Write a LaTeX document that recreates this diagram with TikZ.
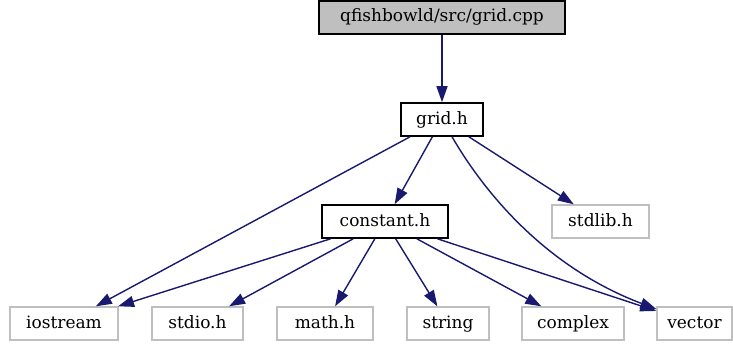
\documentclass[tikz,border=0pt]{standalone}
\usepackage{fontspec}
\setmainfont{DejaVu Serif}
\usetikzlibrary{arrows.meta}
\definecolor{edgeblue}{HTML}{191970}
\definecolor{extgray}{HTML}{BFBFBF}
\definecolor{rootfill}{HTML}{BFBFBF}
\tikzset{
  file/.style={draw=black, line width=1.6pt, inner sep=0pt, minimum height=33pt,
    font=\fontsize{17}{20}\selectfont, text height=12.5pt, text depth=3.5pt},
  extfile/.style={file, draw=extgray, line width=1.4pt},
  rootfile/.style={file, fill=rootfill},
  edge/.style={draw=edgeblue, line width=1.4pt,
    -{Triangle[length=16pt, width=11pt]}},
}
\begin{document}
\begin{tikzpicture}[x=1pt, y=-1pt]
  \useasboundingbox (0,0) rectangle (733,345);

  % source file and its headers
  \node[rootfile, minimum width=246pt] (cpp)      at (442,17.5)  {qfishbowld/src/grid.cpp};
  \node[file,     minimum width=82pt]  (gridh)    at (442,119.5) {grid.h};
  \node[file,     minimum width=126pt] (constant) at (385,221.5) {constant.h};
  \node[extfile,  minimum width=97pt]  (stdlib)   at (600.5,221.5) {stdlib.h};

  % system headers
  \node[extfile, minimum width=108pt] (iostream) at (64,323.5)    {iostream};
  \node[extfile, minimum width=91pt]  (stdio)    at (197.5,323.5) {stdio.h};
  \node[extfile, minimum width=96pt]  (math)     at (325,323.5)   {math.h};
  \node[extfile, minimum width=82pt]  (string)   at (448,323.5)   {string};
  \node[extfile, minimum width=102pt] (complex)  at (573,323.5)   {complex};
  \node[extfile, minimum width=75pt]  (vector)   at (694.5,323.5) {vector};

  % include relations
  \draw[edge] (cpp) -- (gridh);
  \draw[edge] (gridh) -- (iostream);
  \draw[edge] (gridh) -- (constant);
  \draw[edge] (gridh) -- (stdlib);
  \draw[edge] (gridh) .. controls (480,185) and (540,265) .. (vector);
  \draw[edge] (constant) -- (iostream);
  \draw[edge] (constant) -- (stdio);
  \draw[edge] (constant) -- (math);
  \draw[edge] (constant) -- (string);
  \draw[edge] (constant) -- (complex);
  \draw[edge] (constant) -- (vector);
\end{tikzpicture}
\end{document}
